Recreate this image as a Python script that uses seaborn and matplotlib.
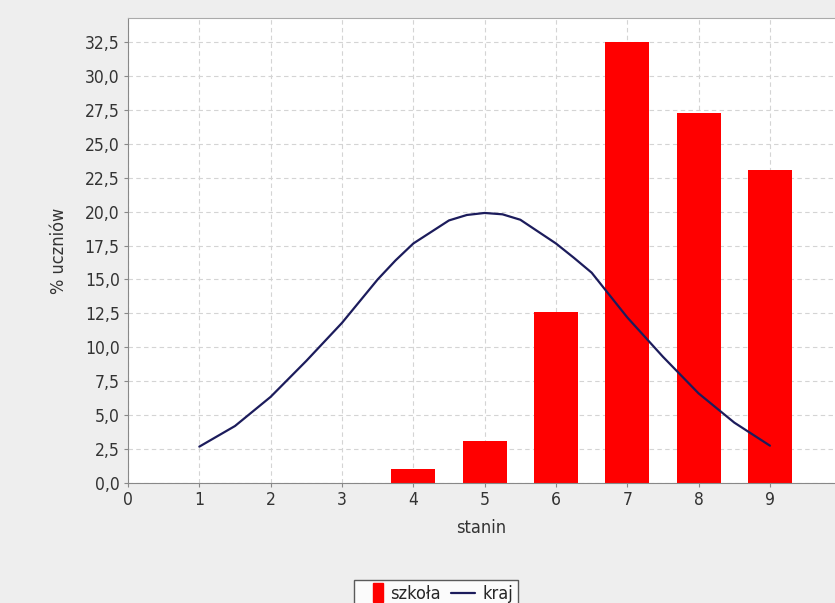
import numpy as np
import pandas as pd
import matplotlib
matplotlib.use("Agg")
import matplotlib.pyplot as plt
import seaborn as sns
from matplotlib.ticker import FuncFormatter, MultipleLocator
from matplotlib.patches import Rectangle
from matplotlib.lines import Line2D
from matplotlib.legend_handler import HandlerPatch
from matplotlib import font_manager

# data
stanin = [1, 2, 3, 4, 5, 6, 7, 8, 9]
szkola = [0.0, 0.0, 0.0, 1.0, 3.1, 12.6, 32.5, 27.3, 23.1]

kraj_x = [1, 1.5, 2, 2.5, 3, 3.5, 3.75, 4, 4.5, 4.75, 5, 5.25, 5.5, 6, 6.25, 6.5,
          7, 7.5, 8, 8.5, 9]
kraj_y = [2.68, 4.2, 6.35, 9.0, 11.8, 15.0, 16.4, 17.65, 19.35, 19.75, 19.9, 19.8,
          19.4, 17.65, 16.6, 15.5, 12.2, 9.3, 6.6, 4.45, 2.75]

sns.set_style("white")
plt.rcParams["font.family"] = ["DejaVu Sans"]
names = {f.name for f in font_manager.fontManager.ttflist}
cond = [f for f in font_manager.fontManager.ttflist
        if f.name == "DejaVu Sans" and "ondensed" in f.fname]
if cond:
    plt.rcParams["font.stretch"] = "condensed"
elif "Liberation Sans Narrow" in names:
    plt.rcParams["font.family"] = ["Liberation Sans Narrow", "DejaVu Sans"]

fig = plt.figure(figsize=(8.35, 6.03), dpi=100)
fig.patch.set_facecolor("#eeeeee")
ax = fig.add_axes([128 / 835, 1 - 483 / 603, 1 - 128 / 835, (483 - 18) / 603])
ax.set_facecolor("white")

df_bars = pd.DataFrame({"stanin": stanin, "szkola": szkola})
sns.barplot(data=df_bars, x="stanin", y="szkola", native_scale=True,
            color="#ff0000", saturation=1, width=0.62, linewidth=0, ax=ax)

df_line = pd.DataFrame({"x": kraj_x, "y": kraj_y})
sns.lineplot(data=df_line, x="x", y="y", color="#1c1c5c", linewidth=1.6, ax=ax)

ax.set_xlim(0, (835 - 128) / 71.33)
ax.set_ylim(0, 465 / 13.57)
ax.xaxis.set_major_locator(MultipleLocator(1))
ax.yaxis.set_major_locator(MultipleLocator(2.5))
ax.yaxis.set_major_formatter(FuncFormatter(lambda v, p: f"{v:.1f}".replace(".", ",")))
ax.xaxis.set_major_formatter(FuncFormatter(lambda v, p: f"{int(round(v))}"))

ax.grid(True, color="#d4d4d4", linestyle=(0, (4, 3)), linewidth=0.8)
ax.set_axisbelow(True)
for s in ["left", "bottom"]:
    ax.spines[s].set_color("#888888")
ax.spines["top"].set_color("#aaaaaa")
ax.spines["right"].set_visible(False)
ax.tick_params(axis="both", direction="out", length=3, width=0.8, color="#888888",
               labelsize=12.5, labelcolor="#333333", pad=3)
ax.tick_params(axis="x", bottom=True)
ax.tick_params(axis="y", left=True)

ax.set_xlabel("stanin", fontsize=13, color="#333333", labelpad=7)
ax.set_ylabel("% uczniów", fontsize=13, color="#333333", labelpad=12)


# narrow, tall legend swatch like the original
def narrow_patch(legend, orig_handle, xdescent, ydescent, width, height, fontsize):
    return Rectangle((-xdescent + width * 0.6, -ydescent - height * 0.25),
                     width * 0.4, height * 1.5)


handles = [Rectangle((0, 0), 1, 1, color="#ff0000"),
           Line2D([0], [0], color="#1c1c5c", linewidth=1.6)]
leg = fig.legend(handles, ["szkoła", "kraj"], loc="center",
                 bbox_to_anchor=(436 / 835, 1 - 594 / 603), ncol=2, frameon=True,
                 fontsize=13, handlelength=1.3, handletextpad=0.4, columnspacing=0.6,
                 borderpad=0.3, fancybox=False,
                 handler_map={Rectangle: HandlerPatch(patch_func=narrow_patch)})
leg.get_frame().set_edgecolor("#333333")
leg.get_frame().set_linewidth(1.0)

fig.savefig("out.png", dpi=100, facecolor=fig.get_facecolor())
